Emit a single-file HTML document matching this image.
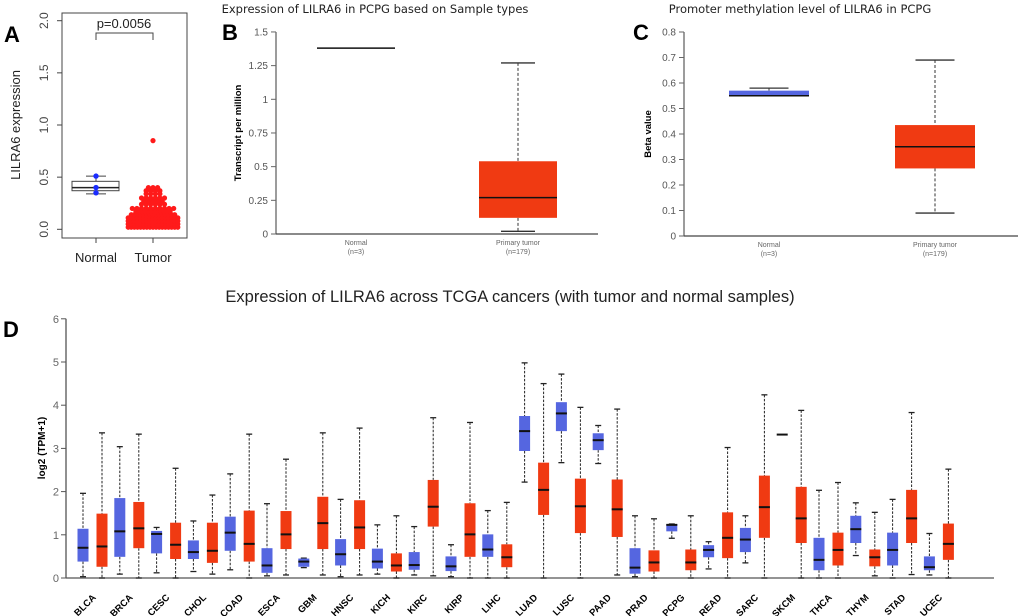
<!DOCTYPE html>
<html><head><meta charset="utf-8"><style>
body{margin:0;background:#fff;}
svg{display:block;font-family:"Liberation Sans",sans-serif;}
</style></head><body>
<svg id="fig" width="1020" height="616" viewBox="0 0 1020 616">
<g id="pA"></g>
<g id="pB"></g>
<g id="pC"></g>
<g id="pD"></g>
</svg>
<script>
// ---- Panel A data ----
const aNormalPoints = [0.51, 0.40, 0.35];
const aNormalBox = [0.34, 0.37, 0.40, 0.46, 0.51];
const aTumorLevels = [0.02,0.05,0.08,0.11,0.14,0.17,0.20,0.24,0.27,0.30,0.34,0.37,0.40,0.85];
const aTumorCounts = [17,17,17,17,15,12,10,6,5,6,4,4,3,1];
const aTicks = [0.0,0.5,1.0,1.5,2.0];
// ---- Panel B data ----
const bCats = ["Normal","Primary tumor"];
const bN = ["(n=3)","(n=179)"];
const bStats = [[1.38,1.38,1.38,1.38,1.38],[0.02,0.12,0.27,0.54,1.27]];
const bTicks = [0,0.25,0.5,0.75,1,1.25,1.5];
// ---- Panel C data ----
const cStats = [[0.55,0.55,0.55,0.57,0.58],[0.09,0.265,0.35,0.435,0.69]];
const cTicks = [0,0.1,0.2,0.3,0.4,0.5,0.6,0.7,0.8];
// ---- Panel D data ----
const dCats = ["BLCA","BRCA","CESC","CHOL","COAD","ESCA","GBM","HNSC","KICH","KIRC","KIRP","LIHC","LUAD","LUSC","PAAD","PRAD","PCPG","READ","SARC","SKCM","THCA","THYM","STAD","UCEC"];
const dNormal = [
[0.03,0.38,0.70,1.14,1.96],[0.09,0.49,1.08,1.85,3.04],[0.12,0.57,1.02,1.09,1.17],[0.15,0.44,0.60,0.87,1.32],
[0.19,0.63,1.05,1.42,2.41],[0.05,0.12,0.29,0.69,1.72],[0.24,0.26,0.38,0.45,0.46],[0.03,0.29,0.55,0.90,1.82],
[0.09,0.22,0.38,0.68,1.23],[0.07,0.19,0.30,0.60,1.19],[0.03,0.16,0.27,0.50,0.77],[0,0.49,0.66,1.01,1.56],
[2.22,2.94,3.40,3.75,4.98],[2.67,3.40,3.81,4.07,4.72],[2.65,2.96,3.19,3.35,3.53],[0.03,0.10,0.24,0.69,1.44],
[0.92,1.08,1.23,1.25,1.25],[0.21,0.48,0.65,0.76,0.84],[0.35,0.60,0.89,1.16,1.44],[3.32,3.32,3.32,3.32,3.32],
[0,0.18,0.42,0.93,2.03],[0.52,0.81,1.13,1.44,1.74],[0,0.29,0.65,1.05,1.82],[0.07,0.18,0.25,0.50,1.03]];
const dTumor = [
[0,0.26,0.73,1.49,3.36],[0,0.69,1.15,1.76,3.33],[0,0.44,0.77,1.28,2.54],[0.09,0.35,0.63,1.28,1.92],
[0,0.38,0.79,1.56,3.33],[0.07,0.67,1.01,1.55,2.75],[0.07,0.67,1.27,1.88,3.36],[0.07,0.67,1.17,1.80,3.47],
[0,0.15,0.29,0.57,1.44],[0.05,1.19,1.65,2.27,3.71],[0,0.49,1.01,1.73,3.60],[0,0.25,0.48,0.78,1.75],
[0,1.46,2.04,2.67,4.50],[0,1.04,1.66,2.30,3.95],[0.07,0.95,1.59,2.28,3.91],[0,0.15,0.36,0.64,1.37],
[0,0.18,0.36,0.66,1.44],[0,0.46,0.93,1.52,3.02],[0,0.93,1.64,2.37,4.24],[0,0.81,1.38,2.11,3.88],
[0,0.29,0.65,1.05,2.21],[0.05,0.27,0.48,0.66,1.52],[0.08,0.81,1.38,2.04,3.83],[0,0.42,0.79,1.26,2.52]];
const dTicks = [0,1,2,3,4,5,6];

const NS="http://www.w3.org/2000/svg";
function mk(parent,tag,attrs,name,text){
  const e=document.createElementNS(NS,tag);
  for(const k in attrs)e.setAttribute(k,attrs[k]);
  
  
  if(text!==undefined)e.textContent=text;
  parent.appendChild(e);return e;
}
const BLUE="#5566e0",RED="#f03a12";

// ===== Panel A =====
(function(){
  const g=document.getElementById('pA');
  const y=v=>229.3-v*104.3;
  mk(g,'text',{x:4,y:42,'font-size':22,'font-weight':'bold'},'panel-label-a','A');
  mk(g,'rect',{x:62,y:13,width:125,height:225,fill:'none',stroke:'#444','stroke-width':1},'plot-frame');
  aTicks.forEach(t=>{
    mk(g,'line',{x1:57,x2:62,y1:y(t),y2:y(t),stroke:'#444'},'y-tick');
    mk(g,'text',{x:48,y:y(t),'font-size':12,fill:'#444','text-anchor':'middle',transform:`rotate(-90 48 ${y(t)})`},'y-tick-label',t.toFixed(1));
  });
  mk(g,'text',{x:20,y:125,'font-size':13,fill:'#222','text-anchor':'middle',transform:'rotate(-90 20 125)'},'y-axis-title','LILRA6 expression');
  [[96,'Normal'],[153,'Tumor']].forEach(([x,l])=>{
    mk(g,'line',{x1:x,x2:x,y1:238,y2:243,stroke:'#444'},'x-tick');
    mk(g,'text',{x:x,y:262,'font-size':13,fill:'#222','text-anchor':'middle'},'x-tick-label',l);
  });
  // normal box
  const b=aNormalBox;
  mk(g,'line',{x1:96,x2:96,y1:y(b[0]),y2:y(b[4]),stroke:'#444'},'whisker');
  mk(g,'line',{x1:86,x2:106,y1:y(b[0]),y2:y(b[0]),stroke:'#444'},'whisker-cap');
  mk(g,'line',{x1:86,x2:106,y1:y(b[4]),y2:y(b[4]),stroke:'#444'},'whisker-cap');
  mk(g,'rect',{x:72,y:y(b[3]),width:47,height:y(b[1])-y(b[3]),fill:'#fff',stroke:'#444'},'normal-box');
  mk(g,'line',{x1:72,x2:119,y1:y(b[2]),y2:y(b[2]),stroke:'#222','stroke-width':1.5},'normal-median');
  aNormalPoints.forEach(v=>mk(g,'circle',{cx:96,cy:y(v),r:2.7,fill:'#1a2cff'},'normal-point'));
  aTumorLevels.forEach((v,i)=>{
    const n=aTumorCounts[i];
    for(let j=0;j<n;j++){
      const cx=153+(j-(n-1)/2)*(n>11?3.1:4.6);
      mk(g,'circle',{cx:cx,cy:y(v),r:2.6,fill:'#ff1a1a'},'tumor-point');
    }
  });
  mk(g,'path',{d:'M96 40 V33 H153 V40',fill:'none',stroke:'#444'},'significance-bracket');
  mk(g,'text',{x:124,y:28,'font-size':13,fill:'#222','text-anchor':'middle'},'p-value','p=0.0056');
})();

// ===== generic panel B/C =====
function boxPanel(id,letter,lx,title,tx,axisX,axisEnd,y0,pxPer,ticks,tickFmt,stats,centers,boxW,capW,colors,ylabel,ylx){
  const g=document.getElementById(id);
  const y=v=>y0-v*pxPer;
  mk(g,'text',{x:tx,y:13,'font-size':11.5,fill:'#222','text-anchor':'middle','font-family':'"DejaVu Sans",sans-serif'},'chart-title',title);
  mk(g,'text',{x:lx,y:40,'font-size':22,'font-weight':'bold'},'panel-label-'+letter.toLowerCase(),letter);
  mk(g,'line',{x1:axisX,x2:axisX,y1:y(ticks[ticks.length-1]),y2:y0,stroke:'#666','stroke-width':1.3},'y-axis');
  mk(g,'line',{x1:axisX,x2:axisEnd,y1:y0,y2:y0,stroke:'#444','stroke-width':1.3},'x-axis');
  ticks.forEach(t=>{
    mk(g,'line',{x1:axisX-5,x2:axisX,y1:y(t),y2:y(t),stroke:'#666'},'y-tick');
    mk(g,'text',{x:axisX-8,y:y(t)+3.5,'font-size':10,fill:'#555','text-anchor':'end'},'y-tick-label',tickFmt(t));
  });
  mk(g,'text',{x:ylx,y:(y0+y(ticks[ticks.length-1]))/2,'font-size':9.5,'font-weight':'bold','text-anchor':'middle',transform:`rotate(-90 ${ylx} ${(y0+y(ticks[ticks.length-1]))/2})`},'y-axis-title',ylabel);
  stats.forEach((s,i)=>{
    const cx=centers[i];
    mk(g,'text',{x:cx,y:y0+11,'font-size':7,fill:'#666','text-anchor':'middle'},'x-tick-label',bCats[i]);
    mk(g,'text',{x:cx,y:y0+20,'font-size':7,fill:'#666','text-anchor':'middle'},'x-tick-count',bN[i]);
    if(s[4]>s[3]){
      mk(g,'line',{x1:cx,x2:cx,y1:y(s[4]),y2:y(s[3]),stroke:'#333','stroke-dasharray':'3,2'},'whisker');
      mk(g,'line',{x1:cx-capW/2,x2:cx+capW/2,y1:y(s[4]),y2:y(s[4]),stroke:'#333','stroke-width':1.3},'whisker-cap');
    }
    if(s[1]>s[0]){
      mk(g,'line',{x1:cx,x2:cx,y1:y(s[1]),y2:y(s[0]),stroke:'#333','stroke-dasharray':'3,2'},'whisker');
      mk(g,'line',{x1:cx-capW/2,x2:cx+capW/2,y1:y(s[0]),y2:y(s[0]),stroke:'#333','stroke-width':1.3},'whisker-cap');
    }
    if(s[3]>s[1]) mk(g,'rect',{x:cx-boxW/2,y:y(s[3]),width:boxW,height:y(s[1])-y(s[3]),fill:colors[i]},'box-'+i);
    mk(g,'line',{x1:cx-boxW/2,x2:cx+boxW/2,y1:y(s[2]),y2:y(s[2]),stroke:'#111','stroke-width':1.5},'median-'+i);
  });
}
boxPanel('pB','B',222,'Expression of LILRA6 in PCPG based on Sample types',375,276,598,234,134.7,bTicks,
  t=>String(t),bStats,[356,518],78,34,[RED,RED],'Transcript per million',241);
boxPanel('pC','C',633,'Promoter methylation level of LILRA6 in PCPG',800,684,1018,236,255,cTicks,
  t=>t===0?'0':t.toFixed(1),cStats,[769,935],80,39,[BLUE,RED],'Beta value',651);

// ===== Panel D =====
(function(){
  const g=document.getElementById('pD');
  const y=v=>578-v*43.2;
  const xN=i=>83+i*36.8, xT=i=>102+i*36.8;
  mk(g,'text',{x:510,y:302,'font-size':16.5,fill:'#222','text-anchor':'middle'},'chart-title-d','Expression of LILRA6 across TCGA cancers (with tumor and normal samples)');
  mk(g,'text',{x:3,y:337,'font-size':22,'font-weight':'bold'},'panel-label-d','D');
  mk(g,'line',{x1:66,x2:66,y1:y(6),y2:578,stroke:'#555','stroke-width':1.3},'y-axis');
  mk(g,'line',{x1:66,x2:994,y1:578,y2:578,stroke:'#555','stroke-width':1.3},'x-axis');
  dTicks.forEach(t=>{
    mk(g,'line',{x1:61,x2:66,y1:y(t),y2:y(t),stroke:'#555'},'y-tick');
    mk(g,'text',{x:59,y:y(t)+4,'font-size':11,fill:'#666','text-anchor':'end'},'y-tick-label',String(t));
  });
  mk(g,'text',{x:45,y:448,'font-size':10,'font-weight':'bold','text-anchor':'middle',transform:'rotate(-90 45 448)'},'y-axis-title','log2 (TPM+1)');
  function drawBox(cx,s,color,name){
    const w=11;
    if(s[4]>s[3]) mk(g,'line',{x1:cx,x2:cx,y1:y(s[4]),y2:y(s[3]),stroke:'#222','stroke-dasharray':'2.5,1.5','stroke-width':1},name+'-whisker');
    if(s[1]>s[0]) mk(g,'line',{x1:cx,x2:cx,y1:y(s[1]),y2:y(s[0]),stroke:'#222','stroke-dasharray':'2.5,1.5','stroke-width':1},name+'-whisker');
    if(s[4]>s[2]) mk(g,'line',{x1:cx-3,x2:cx+3,y1:y(s[4]),y2:y(s[4]),stroke:'#222','stroke-width':1.3},name+'-cap');
    if(s[2]>s[0]) mk(g,'line',{x1:cx-3,x2:cx+3,y1:y(s[0]),y2:y(s[0]),stroke:'#222','stroke-width':1.3},name+'-cap');
    if(s[3]>s[1]) mk(g,'rect',{x:cx-w/2,y:y(s[3]),width:w,height:y(s[1])-y(s[3]),fill:color},name+'-box');
    mk(g,'line',{x1:cx-w/2,x2:cx+w/2,y1:y(s[2]),y2:y(s[2]),stroke:'#111','stroke-width':2},name+'-median');
  }
  dCats.forEach((c,i)=>{
    drawBox(xN(i),dNormal[i],BLUE,'normal-'+c.toLowerCase());
    drawBox(xT(i),dTumor[i],RED,'tumor-'+c.toLowerCase());
    const lx=(xN(i)+xT(i))/2+4, ly=598;
    mk(g,'text',{x:lx,y:ly,'font-size':9.5,'font-weight':'bold','text-anchor':'end',transform:`rotate(-45 ${lx} ${ly})`},'x-tick-label',c);
  });
})();
</script>
</body></html>
